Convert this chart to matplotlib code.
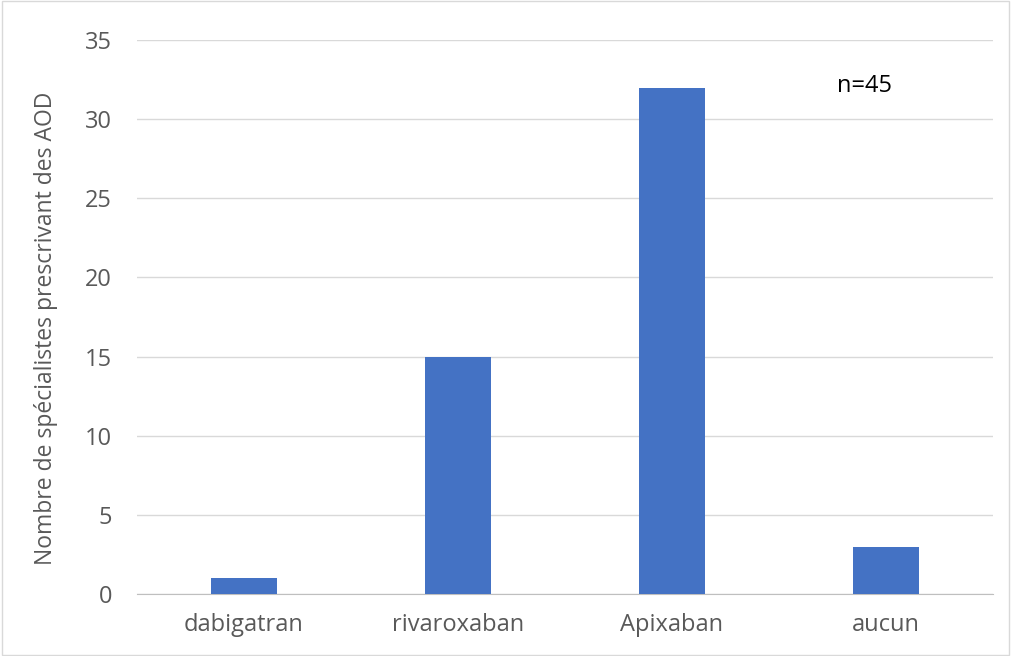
import matplotlib.pyplot as plt
import numpy as np

plt.rcParams['font.family'] = ['Open Sans', 'DejaVu Sans']

categories = ['dabigatran', 'rivaroxaban', 'Apixaban', 'aucun']
counts = [1, 15, 32, 3]
yticks = [0, 5, 10, 15, 20, 25, 30, 35]

fig = plt.figure(figsize=(10.11, 6.56), dpi=100)
ax = fig.add_axes([0.1355, 0.0945, 0.8465, 0.8445])

x = np.arange(len(categories))
ax.bar(x, counts, width=0.31, color='#4472c4', zorder=3)

ax.set_xlim(-0.5, len(categories) - 0.5)
ax.set_ylim(0, 35)
ax.set_yticks(yticks)
ax.set_xticks(x)
ax.set_xticklabels(categories)
ax.grid(axis='y', color='#d9d9d9', linewidth=1, zorder=0)
for side in ['top', 'right', 'left']:
    ax.spines[side].set_visible(False)
ax.spines['bottom'].set_color('#bfbfbf')
ax.tick_params(axis='both', length=0, labelsize=17, colors='#595959')
ax.tick_params(axis='y', pad=18)
ax.tick_params(axis='x', pad=14)
ax.set_ylabel('Nombre de spécialistes prescrivant des AOD', fontsize=16.5, color='#595959')
ax.yaxis.set_label_coords(-0.092, 0.48)

ax.text(2.9, 32.1, 'n=45', fontsize=17, color='black', ha='center', va='center')

# cadre autour de l'image
fig.patches.append(plt.Rectangle((0.002, 0.002), 0.996, 0.996, transform=fig.transFigure,
                                 fill=False, edgecolor='#d9d9d9', linewidth=1))

fig.savefig('out.png', dpi=100)
